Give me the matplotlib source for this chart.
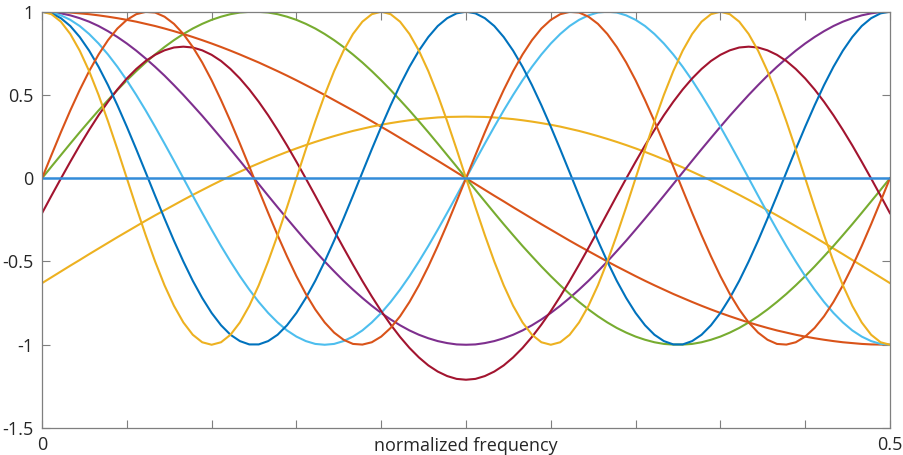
# Basis curves over normalized frequency (MATLAB-style figure)
import matplotlib
matplotlib.use('Agg')
import matplotlib.pyplot as plt
import numpy as np

# sample grid, 0 .. 0.5 in 90 steps
freq = np.linspace(0, 0.5, 91)

# values, one list per curve
cos1 = [1.000, 0.999, 0.998, 0.995, 0.990, 0.985, 0.978, 0.970, 0.961, 0.951, 0.940, 0.927, 0.914, 0.899,
        0.883, 0.866, 0.848, 0.829, 0.809, 0.788, 0.766, 0.743, 0.719, 0.695, 0.669, 0.643, 0.616, 0.588,
        0.559, 0.530, 0.500, 0.469, 0.438, 0.407, 0.375, 0.342, 0.309, 0.276, 0.242, 0.208, 0.174, 0.139,
        0.105, 0.070, 0.035, 0.000,
        -0.035, -0.070, -0.105, -0.139, -0.174, -0.208, -0.242, -0.276, -0.309, -0.342, -0.375, -0.407,
        -0.438, -0.469, -0.500, -0.530, -0.559, -0.588, -0.616, -0.643, -0.669, -0.695, -0.719, -0.743,
        -0.766, -0.788, -0.809, -0.829, -0.848, -0.866, -0.883, -0.899, -0.914, -0.927, -0.940, -0.951,
        -0.961, -0.970, -0.978, -0.985, -0.990, -0.995, -0.998, -0.999, -1.000]
sin1 = [-0.630, -0.595, -0.560, -0.525, -0.491, -0.456, -0.422, -0.388, -0.354, -0.321, -0.288, -0.255,
        -0.223, -0.192, -0.161, -0.130, -0.100, -0.071, -0.042, -0.014, 0.013, 0.039, 0.065, 0.089, 0.113,
        0.136, 0.158, 0.179, 0.199, 0.218, 0.236, 0.253, 0.269, 0.284, 0.297, 0.310, 0.321, 0.331, 0.340,
        0.348, 0.355, 0.360, 0.365, 0.368, 0.369, 0.370,
        0.369, 0.368, 0.365, 0.360, 0.355, 0.348, 0.340, 0.331, 0.321, 0.310, 0.297, 0.284, 0.269, 0.253,
        0.236, 0.218, 0.199, 0.179, 0.158, 0.136, 0.113, 0.089, 0.065, 0.039, 0.013, -0.014, -0.042, -0.071,
        -0.100, -0.130, -0.161, -0.192, -0.223, -0.255, -0.288, -0.321, -0.354, -0.388, -0.422, -0.456,
        -0.491, -0.525, -0.560, -0.595, -0.630]
cos2 = [1.000, 0.998, 0.990, 0.978, 0.961, 0.940, 0.914, 0.883, 0.848, 0.809, 0.766, 0.719, 0.669, 0.616,
        0.559, 0.500, 0.438, 0.375, 0.309, 0.242, 0.174, 0.105, 0.035, -0.035, -0.105, -0.174, -0.242,
        -0.309, -0.375, -0.438, -0.500, -0.559, -0.616, -0.669, -0.719, -0.766, -0.809, -0.848, -0.883,
        -0.914, -0.940, -0.961, -0.978, -0.990, -0.998, -1.000,
        -0.998, -0.990, -0.978, -0.961, -0.940, -0.914, -0.883, -0.848, -0.809, -0.766, -0.719, -0.669,
        -0.616, -0.559, -0.500, -0.438, -0.375, -0.309, -0.242, -0.174, -0.105, -0.035, 0.035, 0.105, 0.174,
        0.242, 0.309, 0.375, 0.438, 0.500, 0.559, 0.616, 0.669, 0.719, 0.766, 0.809, 0.848, 0.883, 0.914,
        0.940, 0.961, 0.978, 0.990, 0.998, 1.000]
sin2 = [0.000, 0.070, 0.139, 0.208, 0.276, 0.342, 0.407, 0.469, 0.530, 0.588, 0.643, 0.695, 0.743, 0.788,
        0.829, 0.866, 0.899, 0.927, 0.951, 0.970, 0.985, 0.995, 0.999, 0.999, 0.995, 0.985, 0.970, 0.951,
        0.927, 0.899, 0.866, 0.829, 0.788, 0.743, 0.695, 0.643, 0.588, 0.530, 0.469, 0.407, 0.342, 0.276,
        0.208, 0.139, 0.070, 0.000,
        -0.070, -0.139, -0.208, -0.276, -0.342, -0.407, -0.469, -0.530, -0.588, -0.643, -0.695, -0.743,
        -0.788, -0.829, -0.866, -0.899, -0.927, -0.951, -0.970, -0.985, -0.995, -0.999, -0.999, -0.995,
        -0.985, -0.970, -0.951, -0.927, -0.899, -0.866, -0.829, -0.788, -0.743, -0.695, -0.643, -0.588,
        -0.530, -0.469, -0.407, -0.342, -0.276, -0.208, -0.139, -0.070, 0.000]
cos3 = [1.000, 0.995, 0.978, 0.951, 0.914, 0.866, 0.809, 0.743, 0.669, 0.588, 0.500, 0.407, 0.309, 0.208,
        0.105, 0.000, -0.105, -0.208, -0.309, -0.407, -0.500, -0.588, -0.669, -0.743, -0.809, -0.866,
        -0.914, -0.951, -0.978, -0.995, -1.000,
        -0.995, -0.978, -0.951, -0.914, -0.866, -0.809, -0.743, -0.669, -0.588, -0.500, -0.407, -0.309,
        -0.208, -0.105, 0.000, 0.105, 0.208, 0.309, 0.407, 0.500, 0.588, 0.669, 0.743, 0.809, 0.866, 0.914,
        0.951, 0.978, 0.995, 1.000,
        0.995, 0.978, 0.951, 0.914, 0.866, 0.809, 0.743, 0.669, 0.588, 0.500, 0.407, 0.309, 0.208, 0.105,
        0.000, -0.105, -0.208, -0.309, -0.407, -0.500, -0.588, -0.669, -0.743, -0.809, -0.866, -0.914,
        -0.951, -0.978, -0.995, -1.000]
sin3 = [-0.210, -0.105, -0.002, 0.099, 0.197, 0.290, 0.378, 0.459, 0.533, 0.599, 0.656, 0.704, 0.741,
        0.768, 0.785, 0.790, 0.785, 0.768, 0.741, 0.704, 0.656, 0.599, 0.533, 0.459, 0.378, 0.290, 0.197,
        0.099, -0.002, -0.105, -0.210,
        -0.315, -0.418, -0.519, -0.617, -0.710, -0.798, -0.879, -0.953, -1.019, -1.076, -1.124, -1.161,
        -1.188, -1.205, -1.210, -1.205, -1.188, -1.161, -1.124, -1.076, -1.019, -0.953, -0.879, -0.798,
        -0.710, -0.617, -0.519, -0.418, -0.315, -0.210,
        -0.105, -0.002, 0.099, 0.197, 0.290, 0.378, 0.459, 0.533, 0.599, 0.656, 0.704, 0.741, 0.768, 0.785,
        0.790, 0.785, 0.768, 0.741, 0.704, 0.656, 0.599, 0.533, 0.459, 0.378, 0.290, 0.197, 0.099, -0.002,
        -0.105, -0.210]
cos4 = [1.000, 0.990, 0.961, 0.914, 0.848, 0.766, 0.669, 0.559, 0.438, 0.309, 0.174, 0.035, -0.105,
        -0.242, -0.375, -0.500, -0.616, -0.719, -0.809, -0.883, -0.940, -0.978, -0.998, -0.998, -0.978,
        -0.940, -0.883, -0.809, -0.719, -0.616, -0.500, -0.375, -0.242, -0.105, 0.035, 0.174, 0.309, 0.438,
        0.559, 0.669, 0.766, 0.848, 0.914, 0.961, 0.990, 1.000,
        0.990, 0.961, 0.914, 0.848, 0.766, 0.669, 0.559, 0.438, 0.309, 0.174, 0.035, -0.105, -0.242, -0.375,
        -0.500, -0.616, -0.719, -0.809, -0.883, -0.940, -0.978, -0.998, -0.998, -0.978, -0.940, -0.883,
        -0.809, -0.719, -0.616, -0.500, -0.375, -0.242, -0.105, 0.035, 0.174, 0.309, 0.438, 0.559, 0.669,
        0.766, 0.848, 0.914, 0.961, 0.990, 1.000]
sin4 = [0.000, 0.139, 0.276, 0.407, 0.530, 0.643, 0.743, 0.829, 0.899, 0.951, 0.985, 0.999, 0.995, 0.970,
        0.927, 0.866, 0.788, 0.695, 0.588, 0.469, 0.342, 0.208, 0.070, -0.070, -0.208, -0.342, -0.469,
        -0.588, -0.695, -0.788, -0.866, -0.927, -0.970, -0.995, -0.999, -0.985, -0.951, -0.899, -0.829,
        -0.743, -0.643, -0.530, -0.407, -0.276, -0.139, 0.000,
        0.139, 0.276, 0.407, 0.530, 0.643, 0.743, 0.829, 0.899, 0.951, 0.985, 0.999, 0.995, 0.970, 0.927,
        0.866, 0.788, 0.695, 0.588, 0.469, 0.342, 0.208, 0.070, -0.070, -0.208, -0.342, -0.469, -0.588,
        -0.695, -0.788, -0.866, -0.927, -0.970, -0.995, -0.999, -0.985, -0.951, -0.899, -0.829, -0.743,
        -0.643, -0.530, -0.407, -0.276, -0.139, 0.000]
cos5 = [1.000, 0.985, 0.940, 0.866, 0.766, 0.643, 0.500, 0.342, 0.174, 0.000, -0.174, -0.342, -0.500,
        -0.643, -0.766, -0.866, -0.940, -0.985, -1.000, -0.985, -0.940, -0.866, -0.766, -0.643, -0.500,
        -0.342, -0.174, 0.000, 0.174, 0.342, 0.500, 0.643, 0.766, 0.866, 0.940, 0.985, 1.000,
        0.985, 0.940, 0.866, 0.766, 0.643, 0.500, 0.342, 0.174, 0.000, -0.174, -0.342, -0.500, -0.643,
        -0.766, -0.866, -0.940, -0.985, -1.000, -0.985, -0.940, -0.866, -0.766, -0.643, -0.500, -0.342,
        -0.174, 0.000, 0.174, 0.342, 0.500, 0.643, 0.766, 0.866, 0.940, 0.985, 1.000,
        0.985, 0.940, 0.866, 0.766, 0.643, 0.500, 0.342, 0.174, 0.000, -0.174, -0.342, -0.500, -0.643,
        -0.766, -0.866, -0.940, -0.985, -1.000]
# flat line at zero
flat_f = [0.0, 0.5]
flat_v = [0.0, 0.0]

xtick_vals = [0, 0.05, 0.1, 0.15, 0.2, 0.25, 0.3, 0.35, 0.4, 0.45, 0.5]
xtick_labels = ['0', '', '', '', '', '', '', '', '', '', '0.5']
ytick_vals = [-1.5, -1, -0.5, 0, 0.5, 1]
ytick_labels = ['-1.5', '-1', '-0.5', '0', '0.5', '1']

# MATLAB default line colours
c_blue = (0.0, 0.447, 0.741)
c_orange = (0.85, 0.325, 0.098)
c_yellow = (0.929, 0.694, 0.125)
c_purple = (0.494, 0.184, 0.556)
c_green = (0.466, 0.674, 0.188)
c_lblue = (0.301, 0.745, 0.933)
c_dred = (0.635, 0.078, 0.184)

plt.rcParams['font.family'] = ['Open Sans', 'DejaVu Sans']

fig = plt.figure(figsize=(9.04, 4.55), dpi=100)
ax = fig.add_axes([0.0465, 0.0593, 0.938, 0.915])

lw = 1.5
ax.plot(freq, cos1, color=c_orange, lw=lw)
ax.plot(freq, sin1, color=c_yellow, lw=lw)
ax.plot(freq, cos2, color=c_purple, lw=lw)
ax.plot(freq, sin2, color=c_green, lw=lw)
ax.plot(freq, cos3, color=c_lblue, lw=lw)
ax.plot(freq, sin3, color=c_dred, lw=lw)
ax.plot(freq, cos4, color=c_blue, lw=lw)
ax.plot(freq, sin4, color=c_orange, lw=lw)
ax.plot(freq, cos5, color=c_yellow, lw=lw)
ax.plot(flat_f, flat_v, color=(0.2, 0.55, 0.85), lw=1.8)

ax.set_xlim(0, 0.5)
ax.set_ylim(-1.5, 1)
ax.set_xticks(xtick_vals)
ax.set_xticklabels(xtick_labels)
ax.set_yticks(ytick_vals)
ax.set_yticklabels(ytick_labels)

for s in ax.spines.values():
    s.set_color('#7f7f7f')
    s.set_linewidth(0.9)
ax.tick_params(direction='in', length=5.5, width=0.8, color='#7f7f7f',
               labelsize=13, labelcolor='#262626', top=True, right=True)
ax.tick_params(axis='x', pad=6)
ax.tick_params(axis='y', pad=6)

ax.set_xlabel('normalized frequency', fontsize=13, color='#262626')
ax.xaxis.set_label_coords(0.5, -0.022)

plt.savefig('out.png', dpi=100)
plt.close()
